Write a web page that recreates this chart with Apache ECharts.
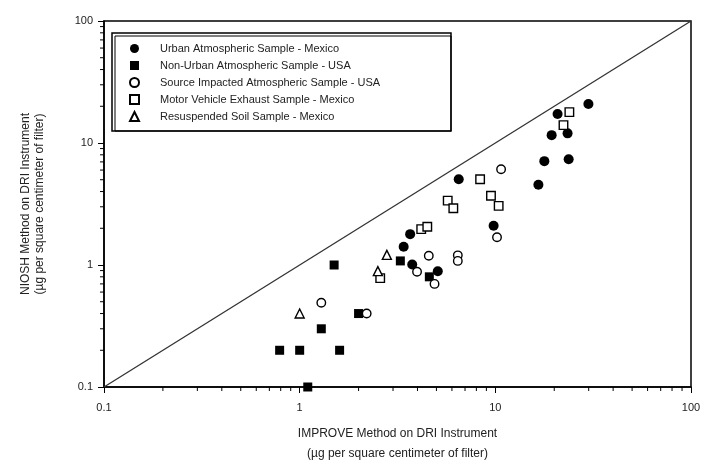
<!DOCTYPE html>
<html lang="en">
<head>
    <meta charset="UTF-8">
    <title>NIOSH vs IMPROVE</title>
    <style>
        * { margin: 0; padding: 0; }
        #chart { width: 704px; height: 469px; background: #fff; }
    </style>
</head>
<body>
    <div id="chart"></div>
    <script src="https://cdn.jsdelivr.net/npm/echarts@6/dist/echarts.min.js"></script>
    <script>
        // values (x = IMPROVE, y = NIOSH)
        var urbanX = [29.9, 20.8, 19.4, 23.4, 17.8, 23.7, 16.6, 6.5, 3.67, 3.4, 9.8, 3.76, 5.08];
        var urbanY = [20.9, 17.3, 11.6, 12.0, 7.1, 7.35, 4.55, 5.05, 1.79, 1.41, 2.1, 1.01, 0.89];
        var nonUrbanX = [3.27, 4.6, 2.0, 0.79, 1.0, 1.6, 1.29, 1.1, 1.5];
        var nonUrbanY = [1.08, 0.8, 0.4, 0.2, 0.2, 0.2, 0.3, 0.1, 1.0];
        var sourceX = [1.29, 2.2, 10.7, 10.2, 4.57, 6.43, 6.43, 3.98, 4.89];
        var sourceY = [0.49, 0.4, 6.1, 1.69, 1.19, 1.2, 1.08, 0.88, 0.7];
        var motorX = [23.9, 22.3, 8.36, 9.5, 10.4, 5.71, 6.1, 4.18, 4.49, 2.58];
        var motorY = [17.9, 14.0, 5.04, 3.7, 3.05, 3.37, 2.92, 1.97, 2.06, 0.78];
        var soilX = [1.0, 2.79, 2.51];
        var soilY = [0.4, 1.21, 0.89];

        var seriesNames = [
            'Urban Atmospheric Sample - Mexico',
            'Non-Urban Atmospheric Sample - USA',
            'Source Impacted Atmospheric Sample - USA',
            'Motor Vehicle Exhaust Sample - Mexico',
            'Resuspended Soil Sample - Mexico'
        ];
        var oneToOne = [0.1, 100];
        var minorTicks = [0.2, 0.3, 0.4, 0.5, 0.6, 0.7, 0.8, 0.9,
            2, 3, 4, 5, 6, 7, 8, 9, 20, 30, 40, 50, 60, 70, 80, 90];

        var font = 'Liberation Sans, Arial, sans-serif';

        function pairs(xs, ys) {
            return xs.map(function (x, i) { return [x, ys[i]]; });
        }

        var chart = echarts.init(document.getElementById('chart'));

        function scatter(name, xs, ys, symbol, size, filled) {
            return {
                name: name,
                type: 'scatter',
                symbol: symbol,
                symbolSize: size,
                data: pairs(xs, ys),
                itemStyle: filled
                    ? { color: '#000', opacity: 1 }
                    : { color: '#fff', borderColor: '#000', borderWidth: 1.4, opacity: 1 },
                z: 3
            };
        }

        // minor log ticks (2..9 per decade) drawn through the axes' own scale
        function minorTickSeries(dir) {
            return {
                type: 'custom',
                silent: true,
                clip: false,
                data: minorTicks,
                renderItem: function (params, api) {
                    var v = api.value(0);
                    var p = dir === 'x' ? api.coord([v, 0.1]) : api.coord([0.1, v]);
                    var shape = dir === 'x'
                        ? { x1: p[0], y1: p[1], x2: p[0], y2: p[1] + 4 }
                        : { x1: p[0] - 4, y1: p[1], x2: p[0], y2: p[1] };
                    return { type: 'line', shape: shape, style: { stroke: '#000', lineWidth: 1 } };
                },
                encode: { x: dir === 'x' ? 0 : -1, y: dir === 'y' ? 0 : -1 },
                z: 5
            };
        }

        var axisCommon = {
            type: 'log',
            logBase: 10,
            min: 0.1,
            max: 100,
            nameLocation: 'middle',
            splitLine: { show: false },
            axisLine: { lineStyle: { color: '#000', width: 1.5 } },
            axisTick: { inside: false, length: 6, lineStyle: { color: '#000', width: 1 } },
            axisLabel: { color: '#222', fontSize: 11, fontFamily: font }
        };

        var option = {
            backgroundColor: '#fff',
            animation: false,
            grid: {
                left: 104, right: 13, top: 21, bottom: 82,
                show: true, borderColor: '#000', borderWidth: 1.5
            },
            xAxis: Object.assign({}, axisCommon, {
                name: 'IMPROVE Method on DRI Instrument\n(\u00b5g per square centimeter of filter)',
                nameGap: 37,
                nameTextStyle: { color: '#222', fontSize: 12, fontFamily: font, lineHeight: 20 },
                axisLabel: Object.assign({}, axisCommon.axisLabel, { margin: 15 })
            }),
            yAxis: Object.assign({}, axisCommon, {
                name: 'NIOSH Method on DRI Instrument\n(\u00b5g per square centimeter of filter)',
                nameGap: 57,
                nameTextStyle: { color: '#222', fontSize: 12, fontFamily: font, lineHeight: 14 },
                axisLabel: Object.assign({}, axisCommon.axisLabel, { margin: 11 })
            }),
            legend: {
                orient: 'vertical',
                left: 129,
                top: 43,
                padding: 0,
                itemWidth: 9,
                itemHeight: 9,
                itemGap: 6,
                data: seriesNames,
                textStyle: {
                    color: '#222', fontSize: 11, fontFamily: font,
                    lineHeight: 9, padding: [0, 0, 0, 16]
                }
            },
            graphic: [
                { type: 'rect', shape: { x: 112, y: 33, width: 339, height: 98 },
                  style: { fill: 'none', stroke: '#000', lineWidth: 1.5 }, z: 10 },
                { type: 'rect', shape: { x: 115, y: 36, width: 336, height: 95 },
                  style: { fill: 'none', stroke: '#000', lineWidth: 1 }, z: 10 }
            ],
            series: [
                {
                    type: 'line',
                    data: [[oneToOne[0], oneToOne[0]], [oneToOne[1], oneToOne[1]]],
                    symbol: 'none',
                    silent: true,
                    lineStyle: { color: '#333', width: 1.3 },
                    z: 2
                },
                scatter(seriesNames[0], urbanX, urbanY, 'circle', 10, true),
                scatter(seriesNames[1], nonUrbanX, nonUrbanY, 'rect', 9, true),
                scatter(seriesNames[2], sourceX, sourceY, 'circle', 8.5, false),
                scatter(seriesNames[3], motorX, motorY, 'rect', 8.5, false),
                scatter(seriesNames[4], soilX, soilY, 'triangle', 9, false),
                minorTickSeries('x'),
                minorTickSeries('y')
            ]
        };

        chart.setOption(option);
    </script>
</body>
</html>
